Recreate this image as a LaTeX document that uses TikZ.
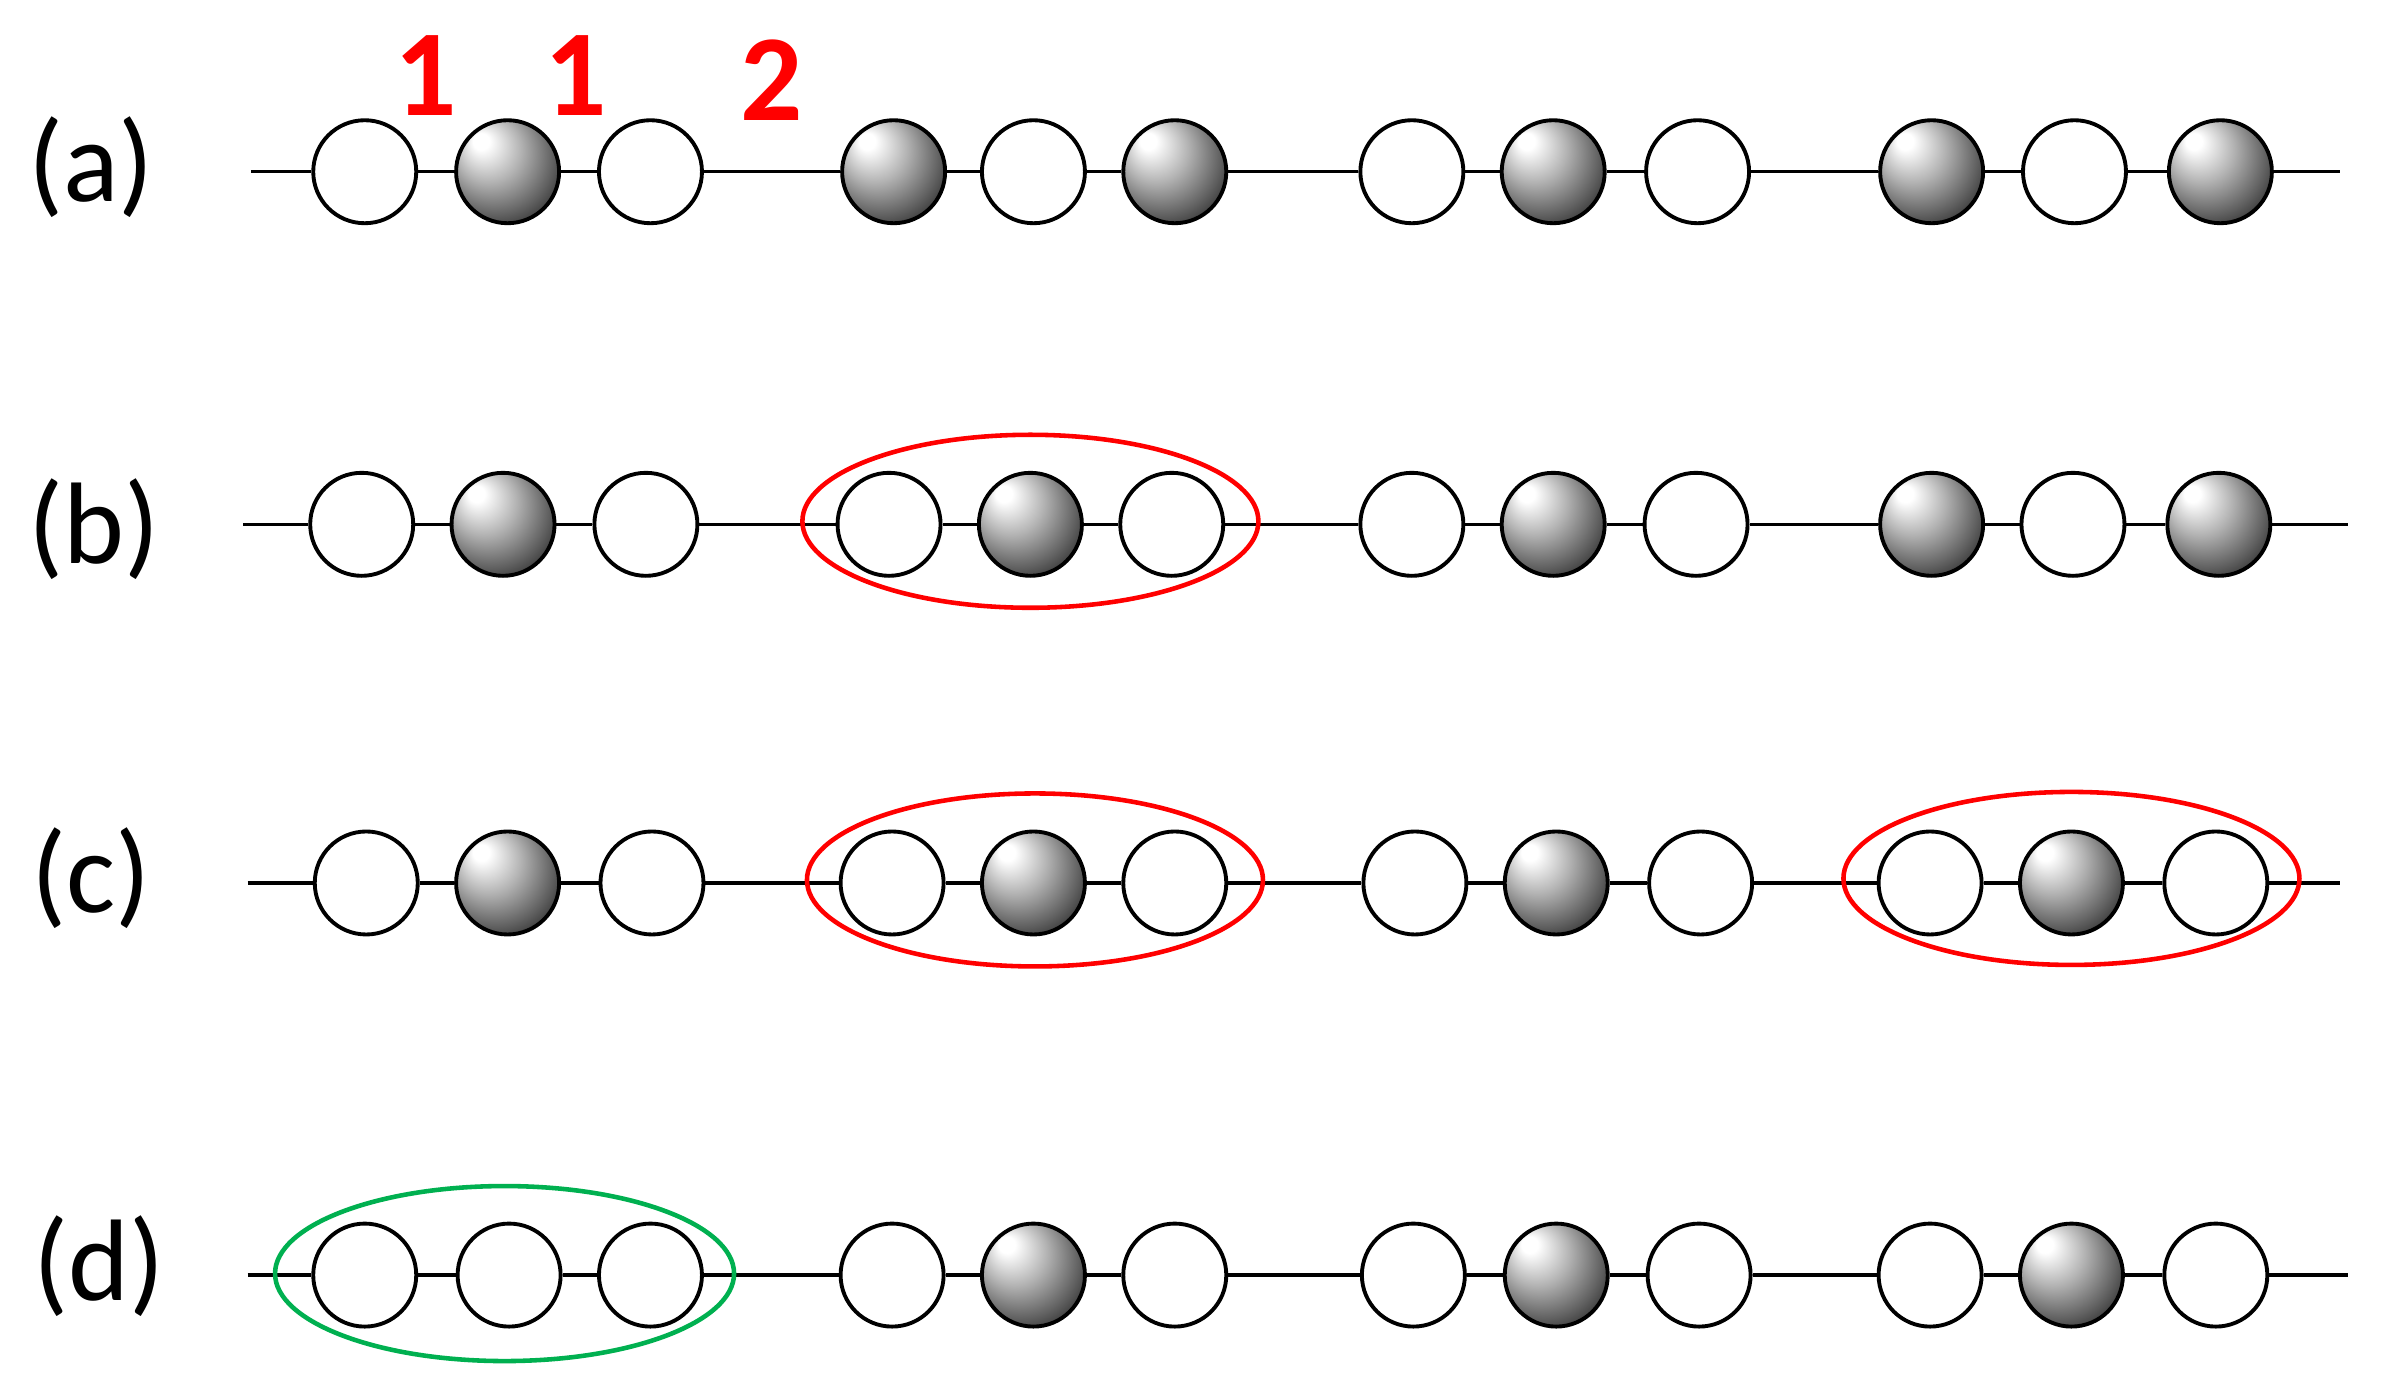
\documentclass[tikz,border=0pt]{standalone}
\usepackage{fontspec}
\setmainfont{Carlito}
\usetikzlibrary{shapes.geometric}
\definecolor{ringred}{HTML}{FF0000}
\definecolor{ringgreen}{HTML}{00B050}
\pgfdeclareradialshading{beadshade}{\pgfpoint{-14bp}{16bp}}{color(0bp)=(white); color(4bp)=(white); color(16bp)=(black!30); color(28bp)=(black!62); color(38bp)=(black!90); color(50bp)=(black)}
\begin{document}
\begin{tikzpicture}[x=0.015198cm,y=-0.015198cm,
  bead/.style={circle,draw=black,line width=1.1pt,inner sep=0pt,minimum size=1.03cm},
  wbead/.style={bead,fill=white},
  sbead/.style={bead,shading=beadshade},
  chain/.style={line width=0.95pt},
  ring/.style={ellipse,line width=1.3pt,inner sep=0pt,minimum width=4.56cm,minimum height=1.73cm},
  redring/.style={ring,draw=ringred},
  greenring/.style={ring,draw=ringgreen},
  rowlabel/.style={font=\fontsize{33}{40}\selectfont},
  num/.style={text=ringred,font=\bfseries\fontsize{35}{42}\selectfont}]
\useasboundingbox (0,0) rectangle (1568,916);
% row (a)
\coordinate (sa) at (165,113); \coordinate (ea) at (1540,113);
\foreach \x/\t [count=\i] in {240/wbead,334/sbead,428/wbead,588/sbead,680/wbead,773/sbead,929/wbead,1022/sbead,1117/wbead,1271/sbead,1365/wbead,1461/sbead}
  \node[\t] (a\i) at (\x,113) {};
% row (b)
\coordinate (sb) at (160,345); \coordinate (eb) at (1545,345);
\foreach \x/\t [count=\i] in {238/wbead,331/sbead,425/wbead,585/wbead,678/sbead,771/wbead,929/wbead,1022/sbead,1116/wbead,1271/sbead,1364/wbead,1460/sbead}
  \node[\t] (b\i) at (\x,345) {};
% row (c)
\coordinate (sc) at (163,581); \coordinate (ec) at (1540,581);
\foreach \x/\t [count=\i] in {241/wbead,334/sbead,429/wbead,587/wbead,680/sbead,773/wbead,931/wbead,1024/sbead,1119/wbead,1270/wbead,1363/sbead,1458/wbead}
  \node[\t] (c\i) at (\x,581) {};
% row (d)
\coordinate (sd) at (163,839); \coordinate (ed) at (1545,839);
\foreach \x/\t [count=\i] in {240/wbead,335/wbead,428/wbead,587/wbead,680/sbead,773/wbead,930/wbead,1024/sbead,1118/wbead,1270/wbead,1363/sbead,1458/wbead}
  \node[\t] (d\i) at (\x,839) {};
% chains
\foreach \r in {a,b,c,d}{
  \draw[chain] (s\r) -- (\r1);
  \draw[chain] (\r12) -- (e\r);
  \foreach \i in {1,...,11}{
    \pgfmathtruncatemacro{\j}{\i+1}
    \draw[chain] (\r\i) -- (\r\j);
  }
}
% rings
\node[redring] (rb) at (678,343) {};
\node[redring] (rc1) at (681,579) {};
\node[redring] (rc2) at (1363,578) {};
\node[greenring,minimum width=4.59cm,minimum height=1.75cm] (gd) at (332,838) {};
% labels
\node[rowlabel] (la) at (60,110) {(a)};
\node[rowlabel] (lb) at (62,348) {(b)};
\node[rowlabel] (lc) at (60,578) {(c)};
\node[rowlabel] (ld) at (65,833) {(d)};
\node[num] (n1) at (280,50) {1};
\node[num] (n2) at (379,50) {1};
\node[num] (n3) at (508,53) {2};
\end{tikzpicture}
\end{document}
